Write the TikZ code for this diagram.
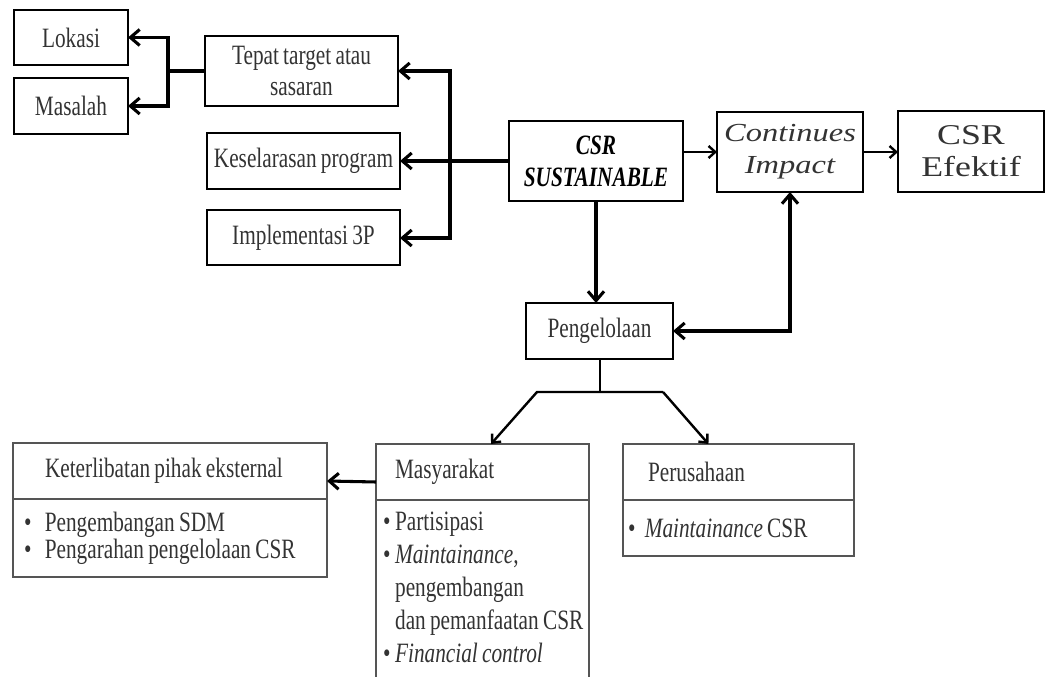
\documentclass[tikz,border=0pt]{standalone}
\usepackage{fontspec}
\setmainfont{Liberation Serif}[FakeStretch=0.76, WordSpace=0.8]
\newfontfamily\widefont{Liberation Serif}[FakeStretch=1.25]
\usetikzlibrary{arrows.meta,calc,positioning}
\newcommand{\pxl}{0.75pt}
\definecolor{boxgray}{HTML}{555555}
\definecolor{txtgray}{HTML}{333333}

\begin{document}
\begin{tikzpicture}[x=0.75pt, y=-0.75pt,
    every node/.style={text=txtgray, font=\fontsize{21}{23}\selectfont, outer sep=0pt},
    topbox/.style={draw=black, line width=1.5pt, align=center, inner sep=0pt},
    titlebox/.style={draw=boxgray, line width=1.1pt, align=flush left, inner ysep=0pt, minimum height=56*\pxl},
    itembox/.style={draw=boxgray, line width=1.1pt, align=flush left},
    bigarrow/.style={line width=2.3pt, -{Straight Barb[length=7pt,width=12pt]}},
    midarrow/.style={line width=1.8pt, -{Straight Barb[length=5pt,width=9pt]}},
  ]
  \useasboundingbox (0,0) rectangle (1046,677);
  \clip (0,0) rectangle (1046,677);

  % upper left boxes
  \node[topbox, minimum width=114*\pxl, minimum height=55*\pxl] (lokasi) at (71,37.5) {Lokasi};
  \node[topbox, minimum width=114*\pxl, minimum height=56*\pxl] (masalah) at (71,106) {Masalah};
  \node[topbox, minimum width=193*\pxl, minimum height=70*\pxl] (tepat) at (301.5,71) {Tepat target atau\\sasaran};
  \node[topbox, minimum width=193*\pxl, minimum height=56*\pxl] (selaras) at (303.5,161) {Keselarasan program};
  \node[topbox, minimum width=193*\pxl, minimum height=55*\pxl] (implementasi) at (303.5,238) {Implementasi 3P};

  % centre and right
  \node[topbox, text=black, font=\fontsize{21}{24}\selectfont\bfseries\itshape,
        minimum width=174*\pxl, minimum height=80*\pxl] (csr) at (596,161) {CSR\\SUSTAINABLE};
  \node[topbox, font=\fontsize{19.5}{24}\widefont\itshape,
        minimum width=146*\pxl, minimum height=80*\pxl] (impact) at (790,152) {Continues\\Impact};
  \node[topbox, font=\fontsize{21.5}{24}\widefont,
        minimum width=146*\pxl, minimum height=81*\pxl] (efektif) at (971,151.5) {CSR\\Efektif};
  \node[topbox, minimum width=147*\pxl, minimum height=56*\pxl] (kelola) at (599.5,331) {Pengelolaan};

  % lower boxes
  \node[titlebox, anchor=north west, text width=250*\pxl, inner xsep=32*\pxl] (eksternal) at (13,443) {Keterlibatan pihak eksternal};
  \node[itembox, below=0pt of eksternal, text width=292*\pxl, inner xsep=11*\pxl, minimum height=78*\pxl,
        font=\fontsize{21}{20.25}\selectfont] (eksternalisi)
        {\textbullet\hspace{10pt}Pengembangan SDM\\\textbullet\hspace{10pt}Pengarahan pengelolaan CSR};

  \node[titlebox, anchor=north west, text width=175*\pxl, inner xsep=19*\pxl] (masyarakat) at (376,444) {Masyarakat};
  \node[itembox, below=0pt of masyarakat, text width=199*\pxl, inner xsep=7*\pxl, inner ysep=12*\pxl,
        font=\fontsize{21}{24.75}\selectfont] (masyarakatisi)
        {\textbullet\,Partisipasi\\
         \textbullet\,\textit{Maintainance},\\
         \phantom{\textbullet\,}pengembangan\\
         \phantom{\textbullet\,}\mbox{dan pemanfaatan CSR}\\
         \textbullet\,\textit{Financial control}\\
         \mbox{}};

  \node[titlebox, anchor=north west, text width=181*\pxl, inner xsep=25*\pxl] (perusahaan) at (623,444) {Perusahaan};
  \node[itembox, below=0pt of perusahaan, text width=221*\pxl, inner xsep=5*\pxl, minimum height=56*\pxl] (perusahaanisi)
        {\textbullet\hspace{7pt}\textit{Maintainance} CSR};

  % connectors
  \coordinate (kiri) at (168,71);
  \draw[bigarrow] (tepat.west) -- (kiri) |- (lokasi.east);
  \draw[bigarrow] (kiri) |- (masalah.east);

  \coordinate (kanan) at (450,161);
  \draw[bigarrow] (csr.west) -- (kanan) |- (tepat.east);
  \draw[bigarrow] (kanan) -- (selaras.east);
  \draw[bigarrow] (kanan) |- (implementasi.east);

  \draw[midarrow] (csr.east |- impact.west) -- (impact.west);
  \draw[midarrow] (impact.east) -- (impact.east -| efektif.west);
  \draw[bigarrow] (csr.south) -- (csr.south |- kelola.north);
  \draw[line width=2.3pt, {Straight Barb[length=7pt,width=12pt]}-{Straight Barb[length=7pt,width=12pt]}]
    (kelola.east) -| (impact.south);

  \coordinate (cabangkiri) at (537,392);
  \coordinate (cabangkanan) at (663,392);
  \draw[line width=1.5pt] (kelola.south) -- (kelola.south |- cabangkiri);
  \draw[midarrow] (cabangkanan) -- (cabangkiri) -- ($(masyarakat.north west)!0.54!(masyarakat.north east)$);
  \draw[midarrow] (cabangkanan) -- ($(perusahaan.north west)!0.37!(perusahaan.north east)$);

  \draw[bigarrow] ([yshift=-7.5pt]masyarakat.west) -- ([yshift=-7.5pt]eksternal.east);
\end{tikzpicture}
\end{document}
